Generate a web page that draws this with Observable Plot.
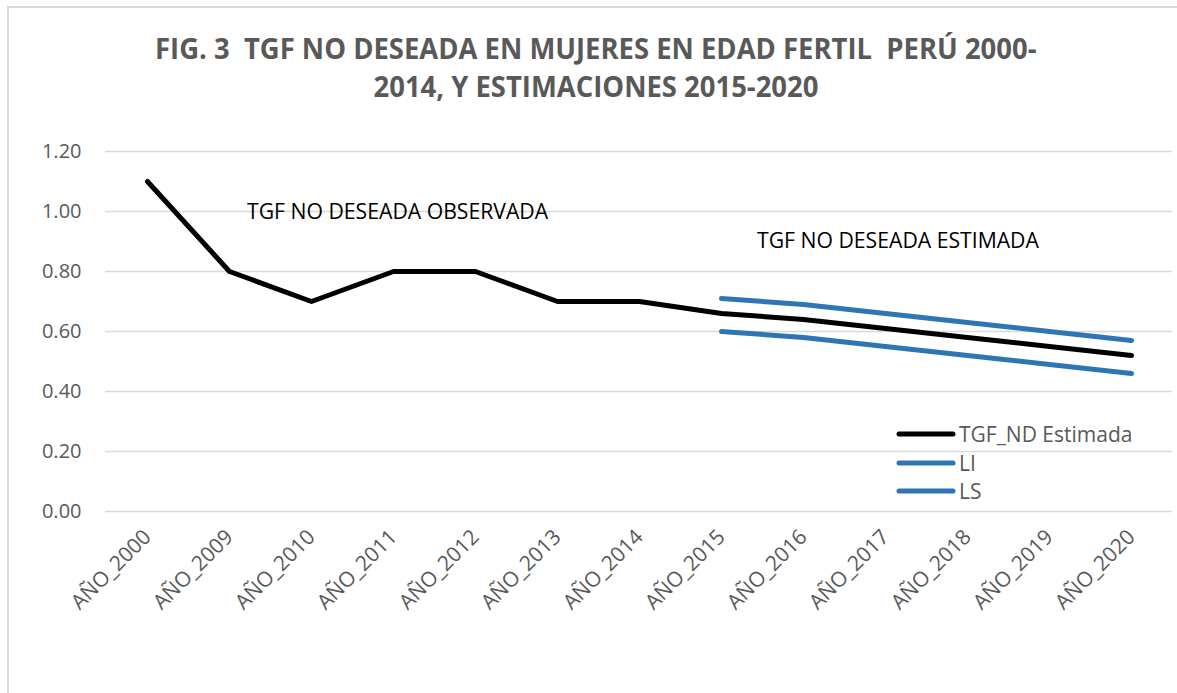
<!DOCTYPE html>
<html>
<head>
<meta charset="utf-8">
<script src="https://cdn.jsdelivr.net/npm/d3@7"></script>
<script src="https://cdn.jsdelivr.net/npm/@observablehq/plot@0.6"></script>
<style>
  html, body { margin: 0; padding: 0; background: #fff; }
  #wrap { position: relative; width: 1177px; height: 693px; overflow: hidden; font-family: "Open Sans", sans-serif; }
  #frame { position: absolute; left: 7px; top: 6px; width: 1300px; height: 900px; border: 2px solid #d9d9d9; box-sizing: border-box; }
  #title { position: absolute; left: 0; top: 29px; width: 1192px; text-align: center; font-weight: 700; font-size: 28px; line-height: 38px; color: #595959; }
  #title span { display: inline-block; transform: scaleX(0.98); }
  #chart { position: absolute; left: 0; top: 120px; }
  .note { position: absolute; font-size: 21.2px; color: #000; white-space: nowrap; }
  #legend { position: absolute; left: 896px; top: 420px; font-size: 21px; color: #595959; }
  #legend div { height: 28.5px; display: flex; align-items: center; white-space: nowrap; }
  #legend svg { margin-right: 3px; }
</style>
</head>
<body>
<div id="wrap">
  <div id="frame"></div>
  <div id="title"><span>FIG. 3&nbsp; TGF NO DESEADA EN MUJERES EN EDAD FERTIL&nbsp; PERÚ 2000-</span><br><span>2014, Y ESTIMACIONES 2015-2020</span></div>
  <div id="chart"></div>
  <div class="note" id="obs" style="left:247px; top:196px;">TGF NO DESEADA OBSERVADA</div>
  <div class="note" id="est" style="left:757px; top:225px;">TGF NO DESEADA ESTIMADA</div>
  <div id="legend"></div>
</div>
<script>
const categories = ["AÑO_2000","AÑO_2009","AÑO_2010","AÑO_2011","AÑO_2012","AÑO_2013","AÑO_2014","AÑO_2015","AÑO_2016","AÑO_2017","AÑO_2018","AÑO_2019","AÑO_2020"];
const tgfND = [1.10,0.80,0.70,0.80,0.80,0.70,0.70,0.66,0.64,0.61,0.58,0.55,0.52];
const estCategories = ["AÑO_2015","AÑO_2016","AÑO_2017","AÑO_2018","AÑO_2019","AÑO_2020"];
const liValues = [0.60,0.58,0.55,0.52,0.49,0.46];
const lsValues = [0.71,0.69,0.66,0.63,0.60,0.57];
const yTicks = [0,0.2,0.4,0.6,0.8,1.0,1.2];
const seriesNames = ["TGF_ND Estimada","LI","LS"];
const seriesColors = ["#000000","#2e75b6","#2e75b6"];

const main = categories.map((c,i)=>({cat:c, v:tgfND[i]}));
const li = estCategories.map((c,i)=>({cat:c, v:liValues[i]}));
const ls = estCategories.map((c,i)=>({cat:c, v:lsValues[i]}));

const chart = Plot.plot({
  width: 1177,
  height: 573,
  marginTop: 31,
  marginBottom: 182,
  marginLeft: 105,
  marginRight: 5,
  style: {fontFamily: "Open Sans, sans-serif", background: "transparent"},
  x: {type: "point", domain: categories, padding: 0.5},
  y: {domain: [0, 1.2]},
  marks: [
    Plot.gridY(yTicks, {stroke: "#d9d9d9", strokeOpacity: 1, strokeWidth: 1.5}),
    Plot.axisY(yTicks, {tickSize: 0, tickPadding: 24, tickFormat: d3.format(".2f"), fontSize: 20, fill: "#595959", label: null}),
    Plot.axisX({tickSize: 0, tickRotate: -45, tickPadding: 22, fontSize: 21, fill: "#595959", label: null}),
    Plot.line(main, {x: "cat", y: "v", stroke: seriesColors[0], strokeWidth: 5, strokeLinecap: "round", strokeLinejoin: "round"}),
    Plot.line(li, {x: "cat", y: "v", stroke: seriesColors[1], strokeWidth: 5, strokeLinecap: "round", strokeLinejoin: "round"}),
    Plot.line(ls, {x: "cat", y: "v", stroke: seriesColors[2], strokeWidth: 5, strokeLinecap: "round", strokeLinejoin: "round"})
  ]
});
document.getElementById("chart").appendChild(chart);

const legend = document.getElementById("legend");
seriesNames.forEach((n,i)=>{
  const row = document.createElement("div");
  row.innerHTML = `<svg width="60" height="10"><line x1="3" y1="5" x2="57" y2="5" stroke="${seriesColors[i]}" stroke-width="5" stroke-linecap="round"/></svg><span>${n}</span>`;
  legend.appendChild(row);
});
</script>
</body>
</html>
